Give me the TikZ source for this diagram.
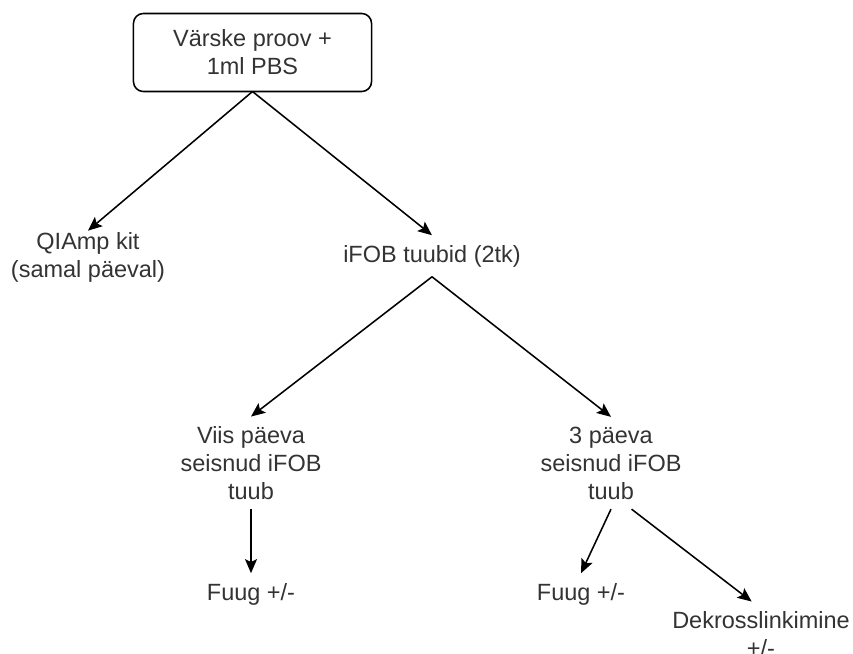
\documentclass[tikz,border=0pt]{standalone}
\usepackage{fontspec}
\setmainfont{Liberation Sans}
\usetikzlibrary{arrows.meta}

\begin{document}
\begin{tikzpicture}[
        x=0.025cm,y=-0.025cm,
        font=\fontsize{16.7}{19.9}\selectfont,
        every node/.style={align=center,inner sep=7pt,outer sep=0pt,text=black!80},
        box/.style={draw=black,line width=1.1pt,rounded corners=7pt,minimum width=5.95cm,minimum height=1.95cm},
        arr/.style={-{Stealth[length=10pt,width=8.5pt,inset=2pt]},line width=1.1pt}]

    \useasboundingbox (0,0) rectangle (853,653);

    \node[box] (vp) at (252.5,52.5) {Värske proov +\\1ml PBS};
    \node[inner ysep=1pt] (qk) at (88,257) {QIAmp kit\\(samal päeval)};
    \node (ift) at (432,256) {iFOB tuubid (2tk)};
    \node (v5) at (251,463) {Viis päeva\\seisnud iFOB\\tuub};
    \node (p3) at (611,463) {3 päeva\\seisnud iFOB\\tuub};
    \node (fg1) at (251,594) {Fuug +/-};
    \node (fg2) at (581,594) {Fuug +/-};
    \node (dk) at (761,634) {Dekrosslinkimine\\+/-};

    \draw[arr] (vp.south) -- (qk.north);
    \draw[arr] (vp.south) -- (ift.north);
    \draw[arr] (ift.south) -- (v5.north);
    \draw[arr] (ift.south) -- (p3.north);
    \draw[arr] (v5.south) -- (fg1.north);
    \draw[arr] (p3.south) -- (fg2.north);
    \draw[arr] (p3.-66) -- (dk.106);
\end{tikzpicture}
\end{document}
